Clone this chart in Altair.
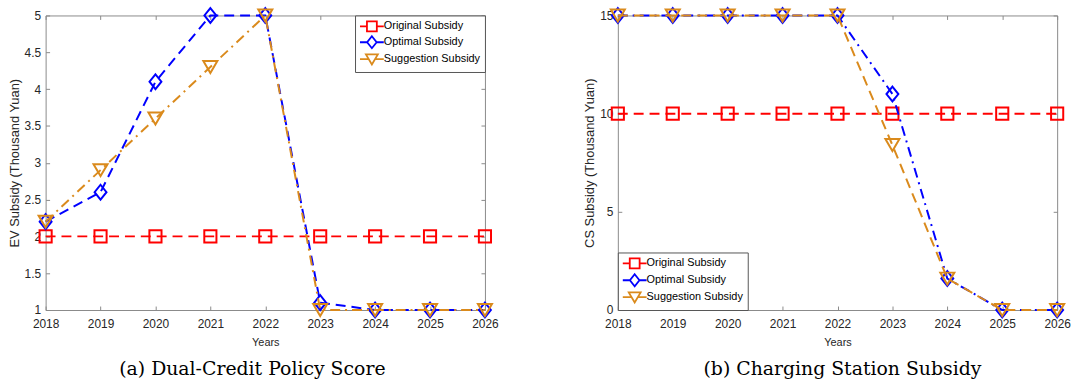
import altair as alt
import pandas as pd

years = [2018, 2019, 2020, 2021, 2022, 2023, 2024, 2025, 2026]
series_names = ["Original Subsidy", "Optimal Subsidy", "Suggestion Subsidy"]
series_colors = ["#FF0000", "#0000FF", "#DA8A1C"]

# (a) Dual-Credit Policy Score  (EV subsidy, thousand yuan)
ev_original = [2, 2, 2, 2, 2, 2, 2, 2, 2]
ev_optimal = [2.2, 2.6, 4.1, 5.0, 5.0, 1.1, 1.0, 1.0, 1.0]
ev_suggestion = [2.2, 2.9, 3.6, 4.3, 5.0, 1.0, 1.0, 1.0, 1.0]

# (b) Charging Station Subsidy (CS subsidy, thousand yuan)
cs_original = [10, 10, 10, 10, 10, 10, 10, 10, 10]
cs_optimal = [15, 15, 15, 15, 15, 11.0, 1.6, 0, 0]
cs_suggestion = [15, 15, 15, 15, 15, 8.4, 1.6, 0, 0]

ev_ticks = [1, 1.5, 2, 2.5, 3, 3.5, 4, 4.5, 5]
cs_ticks = [0, 5, 10, 15]

FONT = "Liberation Sans"
AXIS_GREY = "#8a8a8a"
TEXT = "#262626"

DASHED = [10, 6]
DASHDOT = [10, 5, 2, 5]

marker_shapes = [
    "square",
    "M0,-1L0.8,0L0,1L-0.8,0Z",
    "M-1,-0.85L1,-0.85L0,0.85Z",
]
marker_sizes = [150, 225, 200]
legend_paths = [
    "M-2,0H-0.83M0.83,0H2M-0.83,-0.83H0.83V0.83H-0.83Z",
    "M-2,0H-0.8M0.8,0H2M0,-1L0.8,0L0,1L-0.8,0Z",
    "M-2,0H-0.53M0.53,0H2M-1,-0.8H1L0,0.9Z",
]


def make_df(cols):
    rows = []
    for name, vals in zip(series_names, cols):
        for yr, v in zip(years, vals):
            rows.append({"year": yr, "series": name, "value": v})
    return pd.DataFrame(rows)


def tick_axis(orient, vals):
    # inward-pointing ticks (axis pulled 4px inside the frame)
    return alt.Axis(
        orient=orient, values=vals, labels=False, domain=False, ticks=True,
        tickSize=4, offset=-4, tickColor=AXIS_GREY, tickWidth=1, grid=False,
        title=None,
    )


def panel(df, ydom, yticks, ytitle, dashes, legend_orient, row_pad, caption, cap_dx):
    xscale = alt.Scale(domain=[2018, 2026], nice=False, zero=False)
    yscale = alt.Scale(domain=ydom, nice=False, zero=False)
    x_main = alt.X(
        "year:Q", scale=xscale,
        axis=alt.Axis(
            values=years, format="d", title="Years", grid=False, ticks=False,
            domain=False, labelFont=FONT, labelFontSize=12, labelColor=TEXT,
            labelPadding=9, titleFont=FONT, titleFontSize=11,
            titleFontWeight="normal", titleColor=TEXT, titlePadding=7,
            labelFlush=False,
        ),
    )
    y_main = alt.Y(
        "value:Q", scale=yscale,
        axis=alt.Axis(
            values=yticks, format="~g", title=ytitle, grid=False, ticks=False,
            domain=False, labelFont=FONT, labelFontSize=12, labelColor=TEXT,
            labelPadding=5, titleFont=FONT, titleFontSize=13,
            titleFontWeight="normal", titleColor=TEXT, titlePadding=3,
        ),
    )
    x_none = alt.X("year:Q", scale=xscale, axis=None)
    y_none = alt.Y("value:Q", scale=yscale, axis=None)

    base = alt.Chart(df)
    empty = base.transform_filter("false")
    layers = [
        empty.mark_point().encode(x=x_main, y=y_main),
        empty.mark_point().encode(x=alt.X("year:Q", scale=xscale, axis=tick_axis("bottom", years)), y=y_none),
        empty.mark_point().encode(x=alt.X("year:Q", scale=xscale, axis=tick_axis("top", years)), y=y_none),
        empty.mark_point().encode(x=x_none, y=alt.Y("value:Q", scale=yscale, axis=tick_axis("left", yticks))),
        empty.mark_point().encode(x=x_none, y=alt.Y("value:Q", scale=yscale, axis=tick_axis("right", yticks))),
    ]
    for i, name in enumerate(series_names):
        sub = base.transform_filter(alt.datum.series == name)
        layers.append(
            sub.mark_line(color=series_colors[i], strokeWidth=2, strokeDash=dashes[i]).encode(x=x_none, y=y_none)
        )
        layers.append(
            sub.mark_point(
                shape=marker_shapes[i], size=marker_sizes[i], filled=False,
                color=series_colors[i], strokeWidth=2, opacity=1,
            ).encode(x=x_none, y=y_none)
        )
    leg = alt.Legend(
        title=None, orient=legend_orient, offset=0, padding=4, symbolOffset=6,
        labelOffset=5, rowPadding=row_pad, strokeColor="#555555",
        fillColor="white", labelFont=FONT, labelFontSize=11,
        labelColor="black", symbolSize=144, symbolStrokeWidth=1.8,
        symbolFillColor="transparent",
    )
    legend_layer = empty.mark_point(filled=False, strokeWidth=2, opacity=1).encode(
        x=x_none, y=y_none,
        color=alt.Color("series:N", scale=alt.Scale(domain=series_names, range=series_colors), legend=leg),
        shape=alt.Shape("series:N", scale=alt.Scale(domain=series_names, range=legend_paths), legend=leg),
    )
    layers.append(legend_layer)
    return alt.layer(*layers).resolve_axis(x="independent", y="independent").properties(
        width=443, height=297,
        title=alt.TitleParams(
            caption, orient="bottom", font="DejaVu Serif", fontSize=19,
            fontWeight="normal", color="black", offset=13, anchor="middle",
            frame="group", dx=cap_dx,
        ),
    )


left = panel(
    make_df([ev_original, ev_optimal, ev_suggestion]), [1, 5], ev_ticks,
    "EV Subsidy (Thousand Yuan)", [DASHED, DASHED, DASHDOT], "top-right", -4,
    "(a) Dual-Credit Policy Score", -13,
)
right = panel(
    make_df([cs_original, cs_optimal, cs_suggestion]), [0, 15], cs_ticks,
    "CS Subsidy (Thousand Yuan)", [DASHED, DASHDOT, DASHED], "bottom-left", -2,
    "(b) Charging Station Subsidy", 5,
)

chart = (
    alt.hconcat(left, right, spacing=85)
    .resolve_scale(color="independent", shape="independent")
    .resolve_legend(color="independent", shape="independent")
    .properties(padding={"left": 7, "top": 2, "right": 5, "bottom": 0}, background="white")
    .configure_view(stroke=AXIS_GREY, strokeWidth=1)
)

chart.save("out.html", embed_options={"renderer": "svg", "actions": False})
